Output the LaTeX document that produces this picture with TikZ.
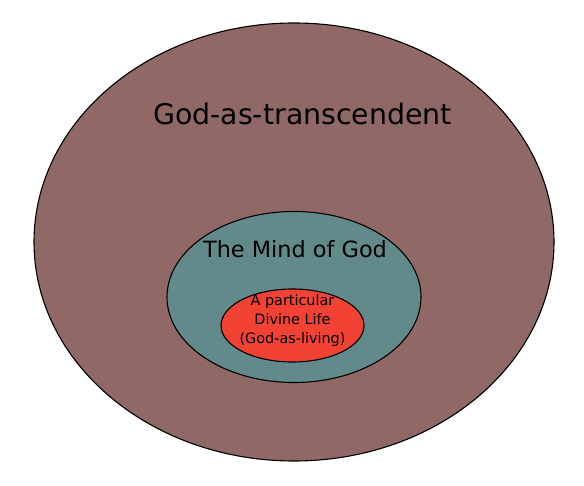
\documentclass[tikz,border=0pt]{standalone}
\usepackage{fontspec}
\setmainfont{DejaVu Sans}
\usetikzlibrary{positioning, shapes.geometric}

\definecolor{godbrown}{RGB}{144,104,102}
\definecolor{mindteal}{RGB}{98,138,138}
\definecolor{lifered}{RGB}{242,66,52}

\begin{document}
\begin{tikzpicture}[x=1pt, y=-1pt,
      oval/.style={ellipse, draw=black, line width=1.1pt, inner sep=0pt},
      lab/.style={inner sep=0pt, text=black, align=center},
    ]
    \useasboundingbox (0,0) rectangle (584,486);

    % ---- nested ovals ----------------------------------------------
    \node[oval, fill=godbrown, minimum width=520pt, minimum height=438pt]
      (trans) at (294,242) {};
    \node[oval, fill=mindteal, minimum width=254pt, minimum height=171pt]
      (mind) at (294,297) {};
    \node[oval, fill=lifered, minimum width=143pt, minimum height=73pt]
      (life) at (292.5,325.5) {};

    % ---- labels ----------------------------------------------------
    \node[lab, anchor=base, font=\fontsize{28.4}{34}\selectfont]
      (transtext) at (302.5,125) {God-as-transcendent};
    \node[lab, anchor=base, font=\fontsize{22.4}{27}\selectfont]
      (mindtext) at (295,258) {The Mind of God};
    \node[lab, font=\fontsize{14.4}{19}\selectfont]
      (lifetext) at (292.5,321) {A particular\\Divine Life\\(God-as-living)};

  \end{tikzpicture}
\end{document}
